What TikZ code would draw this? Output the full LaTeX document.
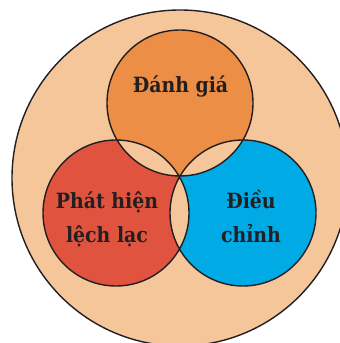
\documentclass[tikz,border=0pt]{standalone}
\usepackage{fontspec}
\setmainfont[FakeStretch=0.9]{DejaVu Serif}
\usepackage{xcolor}
\definecolor{peach}{HTML}{F6C69B}
\definecolor{orangedisc}{HTML}{ED8E46}
\definecolor{reddisc}{HTML}{E0533F}
\definecolor{bluedisc}{HTML}{00AAE5}
\definecolor{ink}{HTML}{231F20}

\begin{document}
\begin{tikzpicture}[x=1pt, y=1pt]
\tikzstyle{disc}=[circle, minimum size=146pt, inner sep=0pt]
\tikzstyle{outline}=[draw=ink, line width=1.4pt]
\tikzstyle{label}=[font={\bfseries\fontsize{21}{34}\selectfont}, text=ink, align=center, anchor=base]
\useasboundingbox (0,0) rectangle (340,343);
\clip (0,0) rectangle (340,343);

% outer ring
\node[disc, minimum size=336pt, fill=peach, outline] (whole) at (180,165) {};

% the three discs
\node[disc, fill=orangedisc] (eval) at (180,240) {};
\node[disc, fill=reddisc] (detect) at (116,130) {};
\node[disc, fill=bluedisc] (adjust) at (243,130) {};

% overlaps
\begin{scope}
\clip (eval.center) circle (73);
\fill[peach] (detect.center) circle (73);
\fill[peach] (adjust.center) circle (73);
\end{scope}
\begin{scope}
\clip (detect.center) circle (73);
\fill[peach] (adjust.center) circle (73);
\end{scope}

\draw[outline] (eval.center) circle (73)
               (detect.center) circle (73)
               (adjust.center) circle (73);

% base of a two-line label is its last line
\node[label] (evaltext) at (180.5,250) {Đánh giá};
\node[label] (detecttext) at (107,100) {Phát hiện\\lệch lạc};
\node[label] (adjusttext) at (251,100) {Điều\\chỉnh};

\end{tikzpicture}
\end{document}
